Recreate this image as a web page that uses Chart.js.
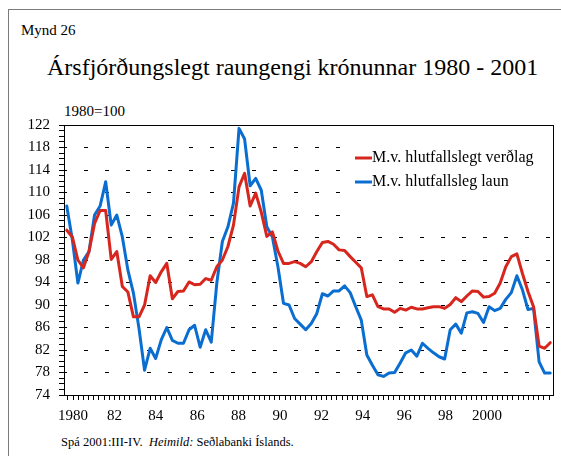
<!DOCTYPE html>
<html>
<head>
<meta charset="utf-8">
<script src="https://cdn.jsdelivr.net/npm/chart.js@4.4.0/dist/chart.umd.min.js"></script>
<style>
  body { margin: 0; width: 561px; height: 456px; overflow: hidden; background: #fff; position: relative;
         font-family: "Liberation Serif", "Times New Roman", serif; }
  #frame { position: absolute; left: 8px; top: 9px; width: 620px; height: 520px; border: 1.5px solid #7a7a7a; }
  .txt { position: absolute; white-space: nowrap; color: #000; line-height: 1; }
  #wrap { position: absolute; left: 0; top: 0; width: 561px; height: 456px; }
</style>
</head>
<body>
<div id="frame"></div>
<div class="txt" style="left:21px; top:23px; font-size:15px;">Mynd 26</div>
<div class="txt" style="left:47px; top:55px; font-size:24px;">Ársfjórðungslegt raungengi krónunnar 1980 - 2001</div>
<div class="txt" style="left:64px; top:104px; font-size:15px;">1980=100</div>
<div class="txt" style="left:61px; top:436px; font-size:12.5px;">Spá 2001:III-IV.&nbsp; <i>Heimild:</i> Seðlabanki Íslands.</div>
<div id="wrap"><canvas id="c" width="561" height="456"></canvas></div>

<script>
// ---- data (quarterly, 1980:I - 2001:IV) ----
const quarters = [];
for (let y = 1980; y <= 2001; y++) {
  for (let q = 1; q <= 4; q++) quarters.push(y + ':' + q);
}

const priceBased = [
  103.3, 102.1, 98.0, 96.6, 99.5, 104.5, 106.8, 106.8,
  98.1, 99.5, 93.3, 92.3, 87.9, 87.9, 90.0, 95.2,
  94.0, 95.9, 97.4, 91.1, 92.4, 92.5, 94.1, 93.6,
  93.7, 94.7, 94.4, 96.8, 98.0, 100.4, 104.2, 111.0,
  113.4, 107.6, 109.9, 106.5, 102.2, 103.0, 99.6, 97.4,
  97.4, 97.7, 97.4, 96.8, 97.7, 99.5, 101.1, 101.3,
  100.8, 99.8, 99.7, 98.6, 97.6, 96.6, 91.5, 91.8,
  89.7, 89.3, 89.3, 88.7, 89.4, 89.1, 89.6, 89.3,
  89.3, 89.5, 89.7, 89.7, 89.4, 90.1, 91.3, 90.6,
  91.6, 92.5, 92.4, 91.4, 91.5, 92.1, 93.9, 96.8,
  98.6, 99.1, 95.6, 92.4, 89.7, 82.7, 82.3, 83.3
];

const wageBased = [
  107.6, 101.6, 93.9, 98.0, 99.5, 106.0, 107.6, 111.9,
  104.2, 106.0, 102.1, 96.2, 92.1, 85.8, 78.4, 82.3,
  80.5, 83.8, 86.0, 83.7, 83.2, 83.2, 85.6, 86.4,
  82.5, 85.6, 83.4, 93.9, 101.3, 103.9, 108.1, 121.4,
  119.5, 111.2, 112.5, 110.4, 103.9, 102.1, 96.8, 90.3,
  90.0, 87.6, 86.6, 85.6, 86.7, 88.5, 92.0, 91.6,
  92.5, 92.5, 93.4, 92.2, 89.7, 87.3, 81.1, 79.3,
  77.6, 77.3, 77.9, 78.0, 79.7, 81.5, 82.0, 80.9,
  83.2, 82.3, 81.5, 80.8, 80.4, 85.6, 86.6, 85.0,
  88.6, 88.8, 88.5, 86.9, 89.7, 89.0, 89.4, 91.0,
  92.2, 95.2, 92.7, 89.2, 89.4, 79.9, 77.9, 77.9
];

const seriesNames = ['M.v. hlutfallslegt verðlag', 'M.v. hlutfallsleg laun'];
const seriesColors = ['#d7261e', '#0a6ed1'];

// axis ticks
const yTicks = [];
for (let v = 74; v <= 122; v++) yTicks.push(v);
const yLabelled = [74, 78, 82, 86, 90, 94, 98, 102, 106, 110, 114, 118, 122];

const yearTicks = [];
for (let t = 1979.75; t <= 2003.0001; t += 0.25) yearTicks.push(t);
const yearLabels = { 1980: '1980', 1982: '82', 1984: '84', 1986: '86', 1988: '88', 1990: '90',
                     1992: '92', 1994: '94', 1996: '96', 1998: '98', 2000: '2000' };

// legend box + frame around plot
const chartExtras = {
  id: 'chartExtras',
  beforeDatasetsDraw(chart) {
    const ctx = chart.ctx, a = chart.chartArea;
    ctx.save();
    ctx.fillStyle = '#fff';
    ctx.fillRect(342, a.top + 3, a.right - 342, 99);
    ctx.font = '16px "Liberation Serif", serif';
    ctx.textBaseline = 'middle';
    seriesNames.forEach((name, i) => {
      const y = 158 + i * 24;
      ctx.strokeStyle = seriesColors[i];
      ctx.lineWidth = 3;
      ctx.beginPath();
      ctx.moveTo(355, y);
      ctx.lineTo(372, y);
      ctx.stroke();
      ctx.fillStyle = '#000';
      ctx.fillText(name, 372, y);
    });
    ctx.restore();
  },
  afterDraw(chart) {
    const ctx = chart.ctx, a = chart.chartArea;
    ctx.save();
    ctx.strokeStyle = '#000';
    ctx.lineWidth = 1;
    ctx.strokeRect(Math.round(a.left) + 0.5, Math.round(a.top) + 0.5,
                   Math.round(a.right - a.left), Math.round(a.bottom - a.top));
    ctx.restore();
  }
};

new Chart(document.getElementById('c'), {
  type: 'line',
  data: {
    labels: quarters,
    datasets: [
      { label: seriesNames[0], data: priceBased, borderColor: seriesColors[0] },
      { label: seriesNames[1], data: wageBased, borderColor: seriesColors[1] }
    ]
  },
  options: {
    responsive: false,
    animation: false,
    layout: { padding: { top: 125, right: 8, bottom: 0, left: 0 } },
    elements: {
      line: { borderWidth: 3, tension: 0, borderJoinStyle: 'round', borderCapStyle: 'round' },
      point: { radius: 0 }
    },
    plugins: { legend: { display: false }, tooltip: { enabled: false } },
    scales: {
      x: { type: 'category', display: false, offset: true },
      years: {
        type: 'linear',
        position: 'bottom',
        min: 1979.565,
        max: 2003.19,
        afterBuildTicks: s => { s.ticks = yearTicks.map(v => ({ value: v })); },
        afterFit: s => { s.height = 61; },
        grid: { drawOnChartArea: false, drawTicks: true, tickLength: 5, tickColor: '#000' },
        border: { display: true, color: '#000', width: 1 },
        ticks: {
          autoSkip: false, maxRotation: 0, padding: 7, color: '#000',
          font: { family: '"Liberation Serif", serif', size: 15 },
          callback: v => yearLabels[Math.round(v * 4) / 4] || ''
        }
      },
      y: {
        min: 74,
        max: 122,
        afterBuildTicks: s => { s.ticks = yTicks.map(v => ({ value: v })); },
        afterFit: s => { s.width = 64; },
        grid: {
          color: c => (c.tick && yLabelled.includes(c.tick.value) && c.tick.value !== 74 && c.tick.value !== 122) ? '#000' : 'rgba(0,0,0,0)',
          tickColor: '#000',
          tickLength: 5,
          lineWidth: 1
        },
        border: { display: true, color: '#000', width: 1, dash: [4, 17], dashOffset: 2 },
        ticks: {
          autoSkip: false, padding: 9, color: '#000',
          font: { family: '"Liberation Serif", serif', size: 15 },
          callback: v => yLabelled.includes(v) ? String(v) : ''
        }
      }
    }
  },
  plugins: [chartExtras]
});
</script>
</body>
</html>
